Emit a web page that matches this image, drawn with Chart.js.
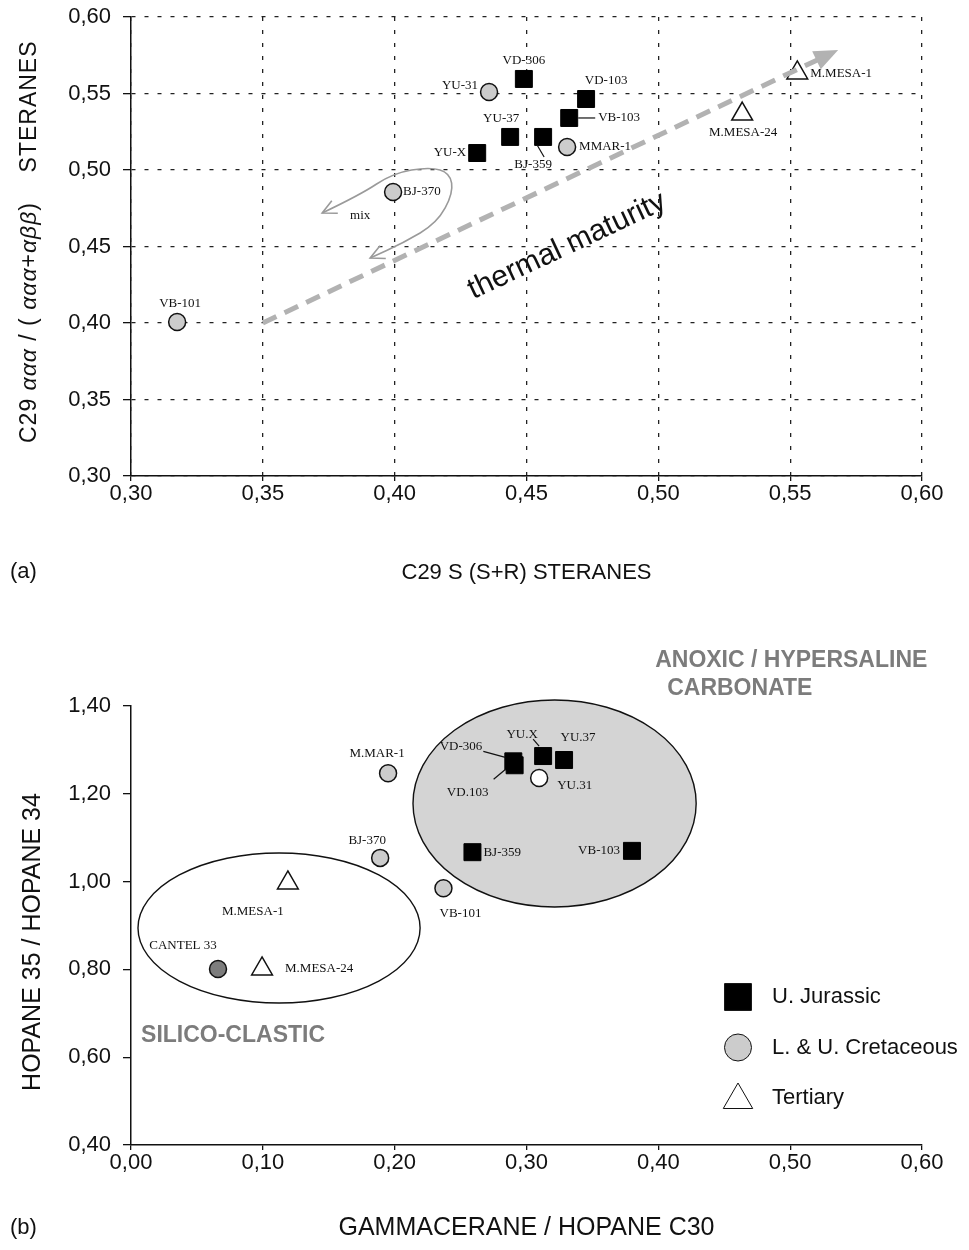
<!DOCTYPE html>
<html>
<head>
<meta charset="utf-8">
<script src="https://cdn.jsdelivr.net/npm/chart.js@4.4.1/dist/chart.umd.min.js"></script>
<style>
  html, body { margin: 0; padding: 0; background: #fff; }
  canvas { display: block; }
</style>
</head>
<body>
<canvas id="chartA" width="969" height="600"></canvas>
<canvas id="chartB" width="969" height="650"></canvas>
<script>
// ---- (a) C29 sterane isomerisation ----
const jurassicNamesA = ['VD-306', 'VD-103', 'VB-103', 'YU-37', 'BJ-359', 'YU-X'];
const jurassicXA = [0.449, 0.4726, 0.4662, 0.4438, 0.4563, 0.4313];
const jurassicYA = [0.5595, 0.5464, 0.534, 0.5216, 0.5216, 0.5111];

const cretaceousNamesA = ['YU-31', 'MMAR-1', 'BJ-370', 'VB-101'];
const cretaceousXA = [0.4358, 0.4654, 0.3994, 0.3175];
const cretaceousYA = [0.551, 0.515, 0.4856, 0.4007];

const tertiaryNamesA = ['M.MESA-1', 'M.MESA-24'];
const tertiaryXA = [0.5527, 0.5318];
const tertiaryYA = [0.5634, 0.5366];

// maturity trend arrow and the "mix" loop, in axis units
const maturityFrom = [0.35, 0.40];
const maturityTo = [0.5682, 0.5784];
const mixLoopX = [0.3725, 0.3869, 0.3994, 0.4134, 0.4210, 0.4222, 0.4161, 0.4032, 0.3907];
const mixLoopY = [0.4719, 0.4837, 0.4980, 0.5020, 0.4980, 0.4850, 0.4654, 0.4523, 0.4425];

// ---- (b) hopane / gammacerane ----
const jurassicNamesB = ['VD-306', 'VD.103', 'YU.X', 'YU.37', 'BJ-359', 'VB-103'];
const jurassicXB = [0.290, 0.291, 0.3126, 0.3285, 0.259, 0.380];
const jurassicYB = [1.274, 1.265, 1.286, 1.277, 1.067, 1.070];

const cretaceousNamesB = ['M.MAR-1', 'BJ-370', 'VB-101', 'YU.31', 'CANTEL 33'];
const cretaceousXB = [0.195, 0.189, 0.237, 0.3096, 0.066];
const cretaceousYB = [1.247, 1.054, 0.985, 1.236, 0.801];

const tertiaryNamesB = ['M.MESA-1', 'M.MESA-24'];
const tertiaryXB = [0.119, 0.0994];
const tertiaryYB = [0.997, 0.801];

// facies fields: centre x, centre y, half-width, half-height
const carbonateField = [0.3213, 1.178, 0.1074, 0.2358];
const clasticField = [0.1123, 0.8943, 0.107, 0.1708];

const seriesNames = ['U. Jurassic', 'L. & U. Cretaceous', 'Tertiary'];

const SANS = "'Liberation Sans', Arial, sans-serif";
const SERIF = "'Liberation Serif', 'Times New Roman', serif";
const fmt = v => v.toFixed(2).replace('.', ',');
const pts = (xs, ys) => xs.map((x, i) => ({ x: x, y: ys[i] }));

// where each sample name sits relative to its marker (pixels)
const placeA = {
  'VD-306': { dx: 0, dy: -18, align: 'center' },
  'VD-103': { dx: 20, dy: -18, align: 'center' },
  'VB-103': { dx: 29, dy: 0, align: 'left', line: [9, 0, 26, 0] },
  'YU-37': { dx: -9, dy: -18, align: 'center' },
  'BJ-359': { dx: -10, dy: 28, align: 'center', line: [-6, 8, 1, 20] },
  'YU-X': { dx: -11, dy: 0, align: 'right' },
  'YU-31': { dx: -11, dy: -6, align: 'right' },
  'MMAR-1': { dx: 12, dy: 0, align: 'left' },
  'BJ-370': { dx: 10, dy: 0, align: 'left' },
  'VB-101': { dx: 3, dy: -18, align: 'center' },
  'M.MESA-1': { dx: 13, dy: 1, align: 'left' },
  'M.MESA-24': { dx: 1, dy: 19, align: 'center' }
};
const placeB = {
  'VD-306': { dx: -31, dy: -15, align: 'right', line: [-30, -10, -8, -4] },
  'VD.103': { dx: -47, dy: 27, align: 'center', line: [-21, 14, -9, 4] },
  'YU.X': { dx: -21, dy: -21, align: 'center', line: [-10, -17, -4, -10] },
  'YU.37': { dx: 14, dy: -22, align: 'center' },
  'BJ-359': { dx: 11, dy: 0, align: 'left' },
  'VB-103': { dx: -12, dy: 0, align: 'right' },
  'M.MAR-1': { dx: -11, dy: -20, align: 'center' },
  'BJ-370': { dx: -13, dy: -17, align: 'center' },
  'VB-101': { dx: 17, dy: 25, align: 'center' },
  'YU.31': { dx: 18, dy: 8, align: 'left' },
  'CANTEL 33': { dx: -35, dy: -23, align: 'center' },
  'M.MESA-1': { dx: -35, dy: 29, align: 'center' },
  'M.MESA-24': { dx: 23, dy: 0, align: 'left' }
};

function labelPlugin(place) {
  return {
    id: 'sampleLabels',
    afterDatasetsDraw(chart) {
      const ctx = chart.ctx;
      ctx.save();
      ctx.font = '13px ' + SERIF;
      ctx.fillStyle = '#111';
      ctx.strokeStyle = '#111';
      ctx.lineWidth = 1.2;
      ctx.textBaseline = 'middle';
      chart.data.datasets.forEach((ds, di) => {
        chart.getDatasetMeta(di).data.forEach((el, i) => {
          const name = ds.names[i];
          const p = place[name];
          if (p.line) {
            ctx.beginPath();
            ctx.moveTo(el.x + p.line[0], el.y + p.line[1]);
            ctx.lineTo(el.x + p.line[2], el.y + p.line[3]);
            ctx.stroke();
          }
          ctx.textAlign = p.align;
          ctx.fillText(name, el.x + p.dx, el.y + p.dy);
        });
      });
      ctx.restore();
    }
  };
}

function markerSets(names, jx, jy, cNames, cx, cy, tNames, tx, ty, circleFill) {
  return [
    { label: seriesNames[0], names: names, data: pts(jx, jy), pointStyle: 'rect', pointRadius: 12,
      backgroundColor: '#000', borderColor: '#000', borderWidth: 1 },
    { label: seriesNames[1], names: cNames, data: pts(cx, cy), pointStyle: 'circle', pointRadius: 8.5,
      backgroundColor: circleFill, borderColor: '#111', borderWidth: 1.5 },
    { label: seriesNames[2], names: tNames, data: pts(tx, ty), pointStyle: 'triangle', pointRadius: 12,
      backgroundColor: '#fff', borderColor: '#111', borderWidth: 1.5 }
  ];
}

function axis(horizontal, min, max, step, title, size, gridOnArea) {
  return {
    type: 'linear', min: min, max: max,
    ticks: { stepSize: step, color: '#111', padding: horizontal ? 0 : 12,
      font: { family: SANS, size: 22 }, callback: fmt },
    grid: { color: '#222', lineWidth: 1.3, drawOnChartArea: gridOnArea, tickLength: horizontal ? 5 : 8,
      tickColor: '#111', tickWidth: 1.3 },
    border: { color: '#111', width: 1.5, dash: [4, 9] },
    title: title,
    afterFit(scale) {
      if (horizontal) scale.height = size; else scale.width = size;
      // keep the plot box where layout.padding puts it
      scale.paddingTop = 0;
      scale.paddingBottom = 0;
    }
  };
}

// rotated title built from runs of different fonts, read bottom to top
function runTitle(ctx, parts, x, yStart, spacing) {
  ctx.save();
  ctx.translate(x, yStart);
  ctx.rotate(-Math.PI / 2);
  ctx.textBaseline = 'middle';
  ctx.textAlign = 'left';
  ctx.fillStyle = '#111';
  let pos = 0;
  parts.forEach(p => {
    ctx.font = p.font;
    [...p.text].forEach(c => { ctx.fillText(c, pos, 0); pos += ctx.measureText(c).width + spacing; });
  });
  ctx.restore();
}

function arrowHead(ctx, x, y, ang, len, half, filled) {
  ctx.beginPath();
  ctx.moveTo(x - len * Math.cos(ang) + half * Math.sin(ang), y - len * Math.sin(ang) - half * Math.cos(ang));
  ctx.lineTo(x, y);
  ctx.lineTo(x - len * Math.cos(ang) - half * Math.sin(ang), y - len * Math.sin(ang) + half * Math.cos(ang));
  if (filled) { ctx.closePath(); ctx.fill(); } else ctx.stroke();
}

// arrows and notes on panel (a)
const trendPlugin = {
  id: 'trend',
  afterDatasetsDraw(chart) {
    const { ctx, scales: { x, y } } = chart;
    ctx.save();
    // mixing loop
    const loop = mixLoopX.map((v, i) => [x.getPixelForValue(v), y.getPixelForValue(mixLoopY[i])]);
    ctx.strokeStyle = '#9a9a9a';
    ctx.lineWidth = 1.6;
    ctx.beginPath();
    ctx.moveTo(loop[0][0], loop[0][1]);
    for (let i = 1; i < loop.length - 1; i++) {
      const mx = (loop[i][0] + loop[i + 1][0]) / 2, my = (loop[i][1] + loop[i + 1][1]) / 2;
      ctx.quadraticCurveTo(loop[i][0], loop[i][1], mx, my);
    }
    const n = loop.length - 1;
    ctx.lineTo(loop[n][0], loop[n][1]);
    ctx.stroke();
    arrowHead(ctx, loop[0][0], loop[0][1], Math.atan2(loop[0][1] - loop[1][1], loop[0][0] - loop[1][0]), 14, 7, false);
    arrowHead(ctx, loop[n][0], loop[n][1], Math.atan2(loop[n][1] - loop[n - 1][1], loop[n][0] - loop[n - 1][0]), 14, 7, false);
    ctx.fillStyle = '#111';
    ctx.font = '13px ' + SERIF;
    ctx.textAlign = 'center';
    ctx.textBaseline = 'middle';
    ctx.fillText('mix', x.getPixelForValue(0.3869), y.getPixelForValue(0.4700));

    // thermal maturity trend
    const x1 = x.getPixelForValue(maturityFrom[0]), y1 = y.getPixelForValue(maturityFrom[1]);
    const x2 = x.getPixelForValue(maturityTo[0]), y2 = y.getPixelForValue(maturityTo[1]);
    const ang = Math.atan2(y2 - y1, x2 - x1);
    ctx.strokeStyle = '#b2b2b2';
    ctx.fillStyle = '#b2b2b2';
    ctx.lineWidth = 5;
    ctx.setLineDash([15, 9]);
    ctx.beginPath();
    ctx.moveTo(x1, y1);
    ctx.lineTo(x2 - 18 * Math.cos(ang), y2 - 18 * Math.sin(ang));
    ctx.stroke();
    ctx.setLineDash([]);
    arrowHead(ctx, x2, y2, ang, 24, 10, true);

    ctx.translate(x.getPixelForValue(0.4654), y.getPixelForValue(0.4503));
    ctx.rotate(-0.44);
    ctx.fillStyle = '#111';
    ctx.font = '30px ' + SANS;
    ctx.fillText('thermal maturity', 0, 0);
    ctx.restore();

    // y title with italic Greek
    const reg = '23px ' + SANS, ita = 'italic 23px ' + SANS;
    runTitle(ctx, [
      { text: 'C29 ', font: reg }, { text: 'ααα', font: ita }, { text: ' / ( ', font: reg },
      { text: 'ααα', font: ita }, { text: '+', font: reg }, { text: 'αββ', font: ita },
      { text: ')    STERANES', font: reg }
    ], 30, 443, 1);

    ctx.save();
    ctx.font = '22px ' + SANS;
    ctx.fillStyle = '#111';
    ctx.textBaseline = 'middle';
    ctx.fillText('(a)', 10, 572);
    ctx.restore();
  }
};

// facies fields behind panel (b) markers
const fieldPlugin = {
  id: 'fields',
  beforeDatasetsDraw(chart) {
    const { ctx, scales: { x, y } } = chart;
    const ell = (f, fill) => {
      const cx = x.getPixelForValue(f[0]), cy = y.getPixelForValue(f[1]);
      const rx = x.getPixelForValue(f[0] + f[2]) - cx, ry = cy - y.getPixelForValue(f[1] + f[3]);
      ctx.beginPath();
      ctx.ellipse(cx, cy, rx, ry, 0, 0, Math.PI * 2);
      ctx.fillStyle = fill;
      ctx.fill();
      ctx.strokeStyle = '#111';
      ctx.lineWidth = 1.4;
      ctx.stroke();
    };
    ctx.save();
    ell(carbonateField, '#d4d4d4');
    ell(clasticField, '#fff');
    ctx.restore();
  },
  afterDatasetsDraw(chart) {
    const { ctx, scales: { x, y }, chartArea } = chart;
    ctx.save();
    ctx.fillStyle = '#7c7c7c';
    ctx.font = 'bold 23px ' + SANS;
    ctx.textBaseline = 'middle';
    ctx.textAlign = 'left';
    ctx.fillText('ANOXIC / HYPERSALINE', x.getPixelForValue(0.3976), y.getPixelForValue(1.5025));
    ctx.fillText('CARBONATE', x.getPixelForValue(0.4067), y.getPixelForValue(1.4387));
    ctx.textAlign = 'center';
    ctx.fillText('SILICO-CLASTIC', x.getPixelForValue(0.0774), y.getPixelForValue(0.6483));

    // legend
    const styles = ['rect', 'circle', 'triangle'];
    const fills = ['#000', '#cccccc', '#fff'];
    const radius = [19, 13.5, 17];
    const lx = chartArea.right - 184;
    ctx.font = '22px ' + SANS;
    ctx.textAlign = 'left';
    styles.forEach((s, i) => {
      const ly = chartArea.top + 291 + i * 50.5;
      ctx.fillStyle = fills[i];
      ctx.strokeStyle = '#111';
      Chart.helpers.drawPoint(ctx, { pointStyle: s, radius: radius[i], borderWidth: 1.5, rotation: 0 }, lx, ly + (s === 'triangle' ? 2 : 0));
      ctx.fillStyle = '#111';
      ctx.fillText(seriesNames[i], lx + 34, ly);
    });

    ctx.font = '25px ' + SANS;
    ctx.textAlign = 'center';
    ctx.translate(33, 342);
    ctx.rotate(-Math.PI / 2);
    ctx.fillText('HOPANE 35 / HOPANE 34', 0, 0);
    ctx.restore();

    ctx.save();
    ctx.font = '22px ' + SANS;
    ctx.fillStyle = '#111';
    ctx.textBaseline = 'middle';
    ctx.fillText('(b)', 10, 628);
    ctx.restore();
  }
};

const baseOptions = (padTop) => ({
  responsive: false,
  animation: false,
  devicePixelRatio: 1,
  layout: { padding: { top: padTop, right: 47, left: 0, bottom: 0 } },
  plugins: { legend: { display: false }, tooltip: { enabled: false } }
});

const optsA = baseOptions(17);
optsA.scales = {
  x: axis(true, 0.30, 0.60, 0.05, { display: true, text: 'C29 S (S+R) STERANES', color: '#111',
    padding: { bottom: 14 }, font: { family: SANS, size: 22 } }, 124, true),
  y: axis(false, 0.30, 0.60, 0.05, { display: false }, 131, true)
};
new Chart(document.getElementById('chartA'), {
  type: 'scatter',
  data: { datasets: markerSets(jurassicNamesA, jurassicXA, jurassicYA, cretaceousNamesA, cretaceousXA, cretaceousYA,
    tertiaryNamesA, tertiaryXA, tertiaryYA, '#cccccc') },
  options: optsA,
  plugins: [trendPlugin, labelPlugin(placeA)]
});

const optsB = baseOptions(106);
optsB.scales = {
  x: axis(true, 0, 0.60, 0.10, { display: true, text: 'GAMMACERANE / HOPANE C30', color: '#111',
    padding: { bottom: 7 }, font: { family: SANS, size: 25 } }, 105, false),
  y: axis(false, 0.40, 1.40, 0.20, { display: false }, 131, false)
};
// YU.31 is drawn open, CANTEL 33 darker
const circleFillB = ctx => {
  const name = cretaceousNamesB[ctx.dataIndex];
  return name === 'YU.31' ? '#ffffff' : name === 'CANTEL 33' ? '#7d7d7d' : '#cccccc';
};
new Chart(document.getElementById('chartB'), {
  type: 'scatter',
  data: { datasets: markerSets(jurassicNamesB, jurassicXB, jurassicYB, cretaceousNamesB, cretaceousXB, cretaceousYB,
    tertiaryNamesB, tertiaryXB, tertiaryYB, circleFillB) },
  options: optsB,
  plugins: [fieldPlugin, labelPlugin(placeB)]
});
</script>
</body>
</html>
